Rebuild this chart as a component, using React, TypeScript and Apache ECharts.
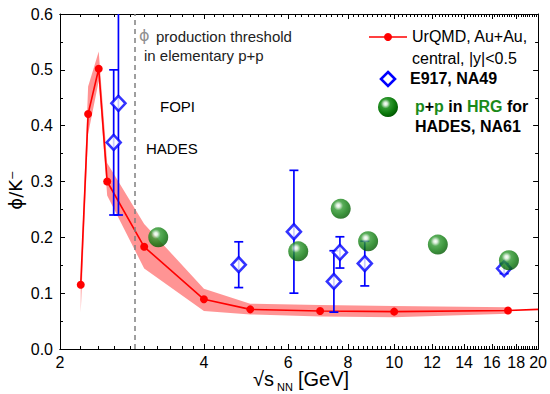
import React, { useEffect, useRef } from 'react';
import * as echarts from 'echarts';

// UrQMD Au+Au central |y|<0.5
const urqmdX = [2.21, 2.29, 2.41, 2.51, 3.0, 4.0, 5.0, 7.0, 10.0, 17.3];
const urqmdY = [0.115, 0.421, 0.502, 0.3, 0.183, 0.089, 0.071, 0.068, 0.067, 0.069];
const urqmdUpper = [0.125, 0.47, 0.533, 0.333, 0.224, 0.108, 0.081, 0.079, 0.077, 0.075];
const urqmdLower = [0.065, 0.385, 0.48, 0.275, 0.144, 0.068, 0.062, 0.058, 0.057, 0.063];
const urqmdTailX = 20;
const urqmdTailY = 0.071;

// Experimental data (FOPI, HADES, E917, NA49)
const expX = [2.59, 2.65, 4.73, 6.17, 7.48, 7.7, 8.68, 16.98];
const expY = [0.37, 0.44, 0.151, 0.21, 0.121, 0.173, 0.153, 0.144];
const expErr = [0.13, 0.2, 0.041, 0.11, 0.055, 0.028, 0.04, 0.009];

// p+p in HRG
const hrgX = [3.21, 6.3, 7.73, 8.82, 12.34, 17.38];
const hrgY = [0.2, 0.175, 0.251, 0.193, 0.187, 0.159];

const thresholdX = 2.87;

const xMajorTicks = [2, 4, 6, 8, 10, 12, 14, 16, 18, 20];
const xMinorTicks: number[] = [];
for (let i = 1; i < 90; i++) {
  if (i % 10 !== 0) xMinorTicks.push(Math.round((2 + i * 0.2) * 10) / 10);
}
const yMin = 0;
const yMax = 0.6;
const yInterval = 0.1;

const FONT = 'Liberation Sans, Arial, Helvetica, sans-serif';
const BLUE = '#0000ff';
const RED = '#ff0000';

function ballGradient() {
  return new echarts.graphic.RadialGradient(0.38, 0.34, 0.68, [
    { offset: 0, color: '#ffffff' },
    { offset: 0.13, color: '#d6ecd6' },
    { offset: 0.35, color: '#2f982f' },
    { offset: 0.7, color: '#0d7a0d' },
    { offset: 1, color: '#005800' },
  ]);
}

export default function App() {
  const ref = useRef<HTMLDivElement>(null);

  useEffect(() => {
    if (!ref.current) return;
    const chart = echarts.init(ref.current, undefined, { renderer: 'svg' });

    const axisLine = { show: true, onZero: false, lineStyle: { color: '#000', width: 1 } };
    const baseX = (position: 'top' | 'bottom', ticks: number[], len: number, labels: boolean) => ({
      type: 'log' as const,
      logBase: 10,
      min: 2,
      max: 20,
      position,
      gridIndex: 0,
      axisLine,
      splitLine: { show: false },
      axisTick: {
        show: true,
        inside: true,
        length: len,
        customValues: ticks,
        lineStyle: { color: '#000', width: 1 },
      },
      axisLabel: labels
        ? {
            show: true,
            customValues: xMajorTicks,
            formatter: (v: number) => String(Math.round(v)),
            fontSize: 16,
            fontFamily: FONT,
            color: '#000',
            margin: 5,
          }
        : { show: false },
    });

    const baseY = (position: 'left' | 'right', labels: boolean) => ({
      type: 'value' as const,
      min: yMin,
      max: yMax,
      interval: yInterval,
      position,
      axisLine,
      splitLine: { show: false },
      axisTick: { show: true, inside: true, length: 5, lineStyle: { color: '#000' } },
      minorTick: { show: true, splitNumber: 2, length: 3, lineStyle: { color: '#000' } },
      axisLabel: labels
        ? {
            show: true,
            formatter: (v: number) => v.toFixed(1),
            fontSize: 16,
            fontFamily: FONT,
            color: '#000',
            margin: 7,
          }
        : { show: false },
    });

    chart.setOption({
      animation: false,
      backgroundColor: '#fff',
      grid: { left: 60, right: 10, top: 14, bottom: 45, containLabel: false },
      xAxis: [
        baseX('bottom', xMajorTicks, 5, true),
        baseX('bottom', xMinorTicks, 3, false),
        baseX('top', xMajorTicks, 5, false),
        baseX('top', xMinorTicks, 3, false),
      ],
      yAxis: [baseY('left', true), baseY('right', false)],
      series: [
        {
          type: 'custom',
          name: 'band',
          xAxisIndex: 0,
          yAxisIndex: 0,
          silent: true,
          z: 1,
          clip: true,
          data: [[urqmdX[0], urqmdLower[0]]],
          renderItem: (_params: any, api: any) => {
            const pts: number[][] = [];
            for (let i = 0; i < urqmdX.length; i++) pts.push(api.coord([urqmdX[i], urqmdUpper[i]]));
            for (let i = urqmdX.length - 1; i >= 0; i--) pts.push(api.coord([urqmdX[i], urqmdLower[i]]));
            return {
              type: 'polygon',
              shape: { points: pts },
              style: { fill: 'rgba(255,0,0,0.42)', stroke: 'none' },
            };
          },
        },
        {
          type: 'line',
          name: 'UrQMD',
          xAxisIndex: 0,
          yAxisIndex: 0,
          z: 3,
          symbol: 'circle',
          symbolSize: 8,
          lineStyle: { color: RED, width: 1.6 },
          itemStyle: { color: RED },
          data: [
            ...urqmdX.map((x, i) => [x, urqmdY[i]]),
            { value: [urqmdTailX, urqmdTailY], symbol: 'none' },
          ],
          markLine: {
            silent: true,
            symbol: ['none', 'none'],
            label: { show: false },
            lineStyle: { color: '#808080', width: 1.5, type: [5, 4] },
            data: [{ xAxis: thresholdX }],
          },
        },
        {
          type: 'custom',
          name: 'errors',
          xAxisIndex: 0,
          yAxisIndex: 0,
          z: 4,
          clip: true,
          data: expX.map((x, i) => [x, expY[i] - expErr[i], expY[i] + expErr[i]]),
          encode: { x: 0, y: [1, 2] },
          renderItem: (_params: any, api: any) => {
            const x = api.value(0);
            const lo = api.coord([x, api.value(1)]);
            const hi = api.coord([x, api.value(2)]);
            const w = 4.5;
            const style = { stroke: BLUE, lineWidth: 1.7 };
            return {
              type: 'group',
              children: [
                { type: 'line', shape: { x1: lo[0], y1: lo[1], x2: hi[0], y2: hi[1] }, style },
                { type: 'line', shape: { x1: lo[0] - w, y1: lo[1], x2: lo[0] + w, y2: lo[1] }, style },
                { type: 'line', shape: { x1: hi[0] - w, y1: hi[1], x2: hi[0] + w, y2: hi[1] }, style },
              ],
            };
          },
        },
        {
          type: 'scatter',
          name: 'E917, NA49',
          xAxisIndex: 0,
          yAxisIndex: 0,
          z: 5,
          symbol: 'diamond',
          symbolSize: [14, 15],
          itemStyle: { color: '#fff', borderColor: BLUE, borderWidth: 2.6 },
          data: expX.map((x, i) => [x, expY[i]]),
        },
        {
          type: 'scatter',
          name: 'HRG',
          xAxisIndex: 0,
          yAxisIndex: 0,
          z: 6,
          symbol: 'circle',
          symbolSize: 20,
          itemStyle: { color: ballGradient() },
          data: hrgX.map((x, i) => [x, hrgY[i]]),
        },
      ],
      graphic: [
        // annotations
        { type: 'text', left: 139, top: 27, style: { text: 'ϕ', fontSize: 16, fontFamily: 'DejaVu Sans, sans-serif', fill: '#909090' } },
        { type: 'text', left: 156, top: 29, style: { text: 'production threshold', fontSize: 15, fontFamily: FONT, fill: '#222' } },
        { type: 'text', left: 144, top: 48, style: { text: 'in elementary p+p', fontSize: 15, fontFamily: FONT, fill: '#222' } },
        { type: 'text', left: 160, top: 99, style: { text: 'FOPI', fontSize: 15, fontFamily: FONT, fill: '#000' } },
        { type: 'text', left: 146, top: 141, style: { text: 'HADES', fontSize: 15, fontFamily: FONT, fill: '#000' } },
        // legend
        { type: 'line', shape: { x1: 369, y1: 37, x2: 407, y2: 37 }, style: { stroke: RED, lineWidth: 1.6 } },
        { type: 'circle', shape: { cx: 388, cy: 37, r: 4 }, style: { fill: RED } },
        { type: 'text', left: 412, top: 28, style: { text: 'UrQMD, Au+Au,', fontSize: 16, fontFamily: FONT, fill: '#000' } },
        { type: 'text', left: 412, top: 50, style: { text: 'central, |y|<0.5', fontSize: 16, fontFamily: FONT, fill: '#000' } },
        {
          type: 'polygon',
          shape: { points: [[388, 72], [395, 79], [388, 86], [381, 79]] },
          style: { fill: '#fff', stroke: BLUE, lineWidth: 2.6 },
        },
        { type: 'text', left: 410, top: 70, style: { text: 'E917, NA49', fontSize: 16, fontWeight: 'bold', fontFamily: FONT, fill: '#000' } },
        { type: 'circle', shape: { cx: 388, cy: 107, r: 10 }, style: { fill: ballGradient() } },
        {
          type: 'text',
          left: 415,
          top: 98,
          style: {
            text: '{g|p}{k|+}{g|p}{k| in }{g|HRG}{k| for}',
            rich: {
              g: { fontSize: 16, fontWeight: 'bold', fontFamily: FONT, fill: '#1a8a1a' },
              k: { fontSize: 16, fontWeight: 'bold', fontFamily: FONT, fill: '#000' },
            },
          },
        },
        { type: 'text', left: 415, top: 118, style: { text: 'HADES, NA61', fontSize: 16, fontWeight: 'bold', fontFamily: FONT, fill: '#000' } },
        // axis titles
        {
          type: 'text',
          x: 15,
          y: 190,
          rotation: Math.PI / 2,
          style: {
            text: 'ϕ/K⁻',
            fontSize: 18,
            fontFamily: 'DejaVu Sans, ' + FONT,
            fill: '#000',
            align: 'center',
            verticalAlign: 'middle',
          },
        },
        { type: 'text', left: 253, top: 369, style: { text: '√s', fontSize: 20, fontFamily: FONT, fill: '#000' } },
        { type: 'text', left: 277, top: 381, style: { text: 'NN', fontSize: 11, fontFamily: FONT, fill: '#000' } },
        { type: 'text', left: 298, top: 369, style: { text: '[GeV]', fontSize: 20, fontFamily: FONT, fill: '#000' } },
      ],
    });

    return () => chart.dispose();
  }, []);

  return (
    <div
      ref={ref}
      style={{ position: 'fixed', left: 0, top: 0, width: 550, height: 394, background: '#fff' }}
    />
  );
}
